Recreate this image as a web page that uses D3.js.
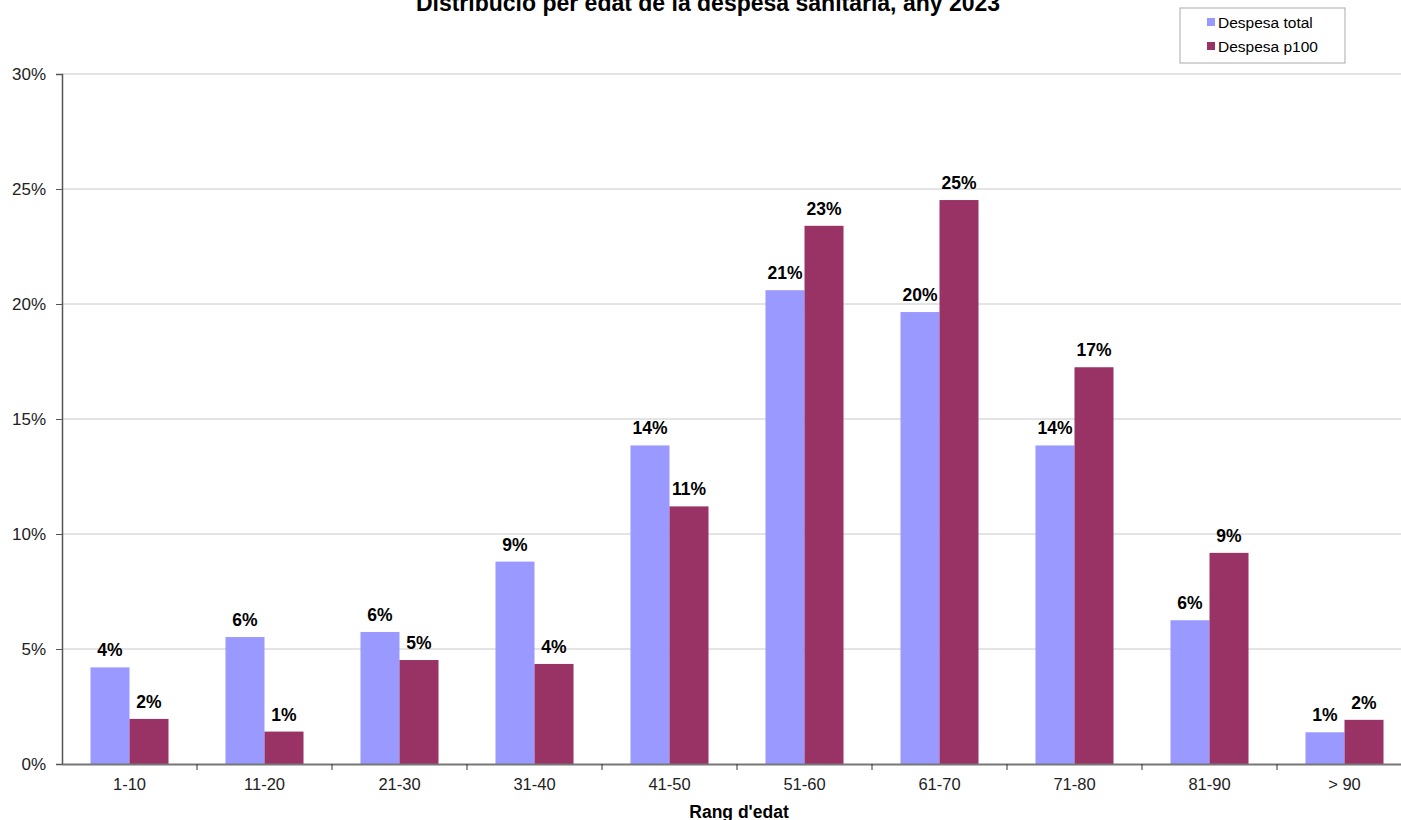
<!DOCTYPE html>
<html><head><meta charset="utf-8">
<script src="https://cdn.jsdelivr.net/npm/d3@7"></script>
<style>body{margin:0;background:#fff;font-family:Arial,"Liberation Sans",sans-serif;}</style>
</head><body><svg id="c" width="1401" height="820"></svg>
<script>
const categories = ["1-10","11-20","21-30","31-40","41-50","51-60","61-70","71-80","81-90","> 90"];
const despesaTotal = [4.2,5.52,5.74,8.8,13.85,20.6,19.65,13.85,6.25,1.38];
const despesaP100 = [1.96,1.41,4.52,4.35,11.2,23.4,24.52,17.25,9.18,1.92];
const seriesNames = ["Despesa total","Despesa p100"];
const yTicks = [0,5,10,15,20,25,30];
const colors = ["#9999FF","#993366"];
const FONT = "Arial,'Liberation Sans',sans-serif";

const svg = d3.select("#c").attr("font-family",FONT);
const x0 = 62, x1 = 1412, yTop = 74, yBot = 764;
const x = d3.scaleBand().domain(categories).range([x0,x1]).paddingInner(0.422).paddingOuter(0.211);
const xs = d3.scaleBand().domain([0,1]).range([0,x.bandwidth()]);
const y = d3.scaleLinear().domain([0,30]).range([yBot,yTop]);

// gridlines
svg.append("g").selectAll("line").data(yTicks.filter(d=>d>0)).join("line")
  .attr("x1",x0).attr("x2",1401).attr("y1",d=>y(d)).attr("y2",d=>y(d))
  .attr("stroke","#c8c8c8").attr("stroke-width",1);

const data = categories.map((c,i)=>({c, v:[despesaTotal[i],despesaP100[i]]}));
const g = svg.append("g").selectAll("g").data(data).join("g").attr("transform",d=>`translate(${x(d.c)},0)`);
g.selectAll("rect").data(d=>d.v.map((v,k)=>({v,k}))).join("rect")
  .attr("x",d=>xs(d.k)).attr("width",xs.bandwidth()).attr("y",d=>y(d.v)).attr("height",d=>yBot-y(d.v))
  .attr("fill",d=>colors[d.k]);
g.selectAll("text").data(d=>d.v.map((v,k)=>({v,k}))).join("text")
  .attr("x",d=>xs(d.k)+xs.bandwidth()/2).attr("y",d=>y(d.v)-11)
  .attr("text-anchor","middle").attr("font-size",17.5).attr("font-weight","bold").attr("fill","#000")
  .text(d=>Math.round(d.v)+"%");

// y axis
const ya = svg.append("g").attr("transform",`translate(${x0},0)`)
  .call(d3.axisLeft(y).tickValues(yTicks).tickFormat(d=>d+"%").tickSize(6).tickPadding(10));
ya.select(".domain").attr("stroke","#555").attr("stroke-width",1.5);
ya.selectAll(".tick line").attr("stroke","#555");
ya.selectAll("text").attr("font-size",17).attr("font-family",FONT).attr("fill","#222");

// x axis
const xa = svg.append("g").attr("transform",`translate(0,${yBot})`)
  .call(d3.axisBottom(x).tickSize(0).tickPadding(14));
xa.select(".domain").attr("stroke","#777").attr("stroke-width",2);
xa.selectAll("text").attr("font-size",16.5).attr("font-family",FONT).attr("fill","#222");
// boundary ticks
const step = x.step();
svg.append("g").selectAll("line").data(categories.slice(1)).join("line")
  .attr("x1",d=>x(d)-(step-x.bandwidth())/2).attr("x2",d=>x(d)-(step-x.bandwidth())/2)
  .attr("y1",yBot).attr("y2",yBot+6).attr("stroke","#333");

svg.append("text").attr("x",739).attr("y",818).attr("text-anchor","middle")
  .attr("font-size",17.5).attr("font-weight","bold").text("Rang d'edat");

svg.append("text").attr("x",708).attr("y",11).attr("text-anchor","middle")
  .attr("font-size",23).attr("font-weight","bold").text("Distribució per edat de la despesa sanitària, any 2023");

// legend
const lg = svg.append("g").attr("transform","translate(1180,8)");
lg.append("rect").attr("width",165).attr("height",55).attr("fill","#fff").attr("stroke","#aaa");
seriesNames.forEach((n,i)=>{
  lg.append("rect").attr("x",27).attr("y",10+i*24).attr("width",8).attr("height",8).attr("fill",colors[i]);
  lg.append("text").attr("x",38).attr("y",20+i*24).attr("font-size",15.5).attr("fill","#000").text(n);
});
</script></body></html>
